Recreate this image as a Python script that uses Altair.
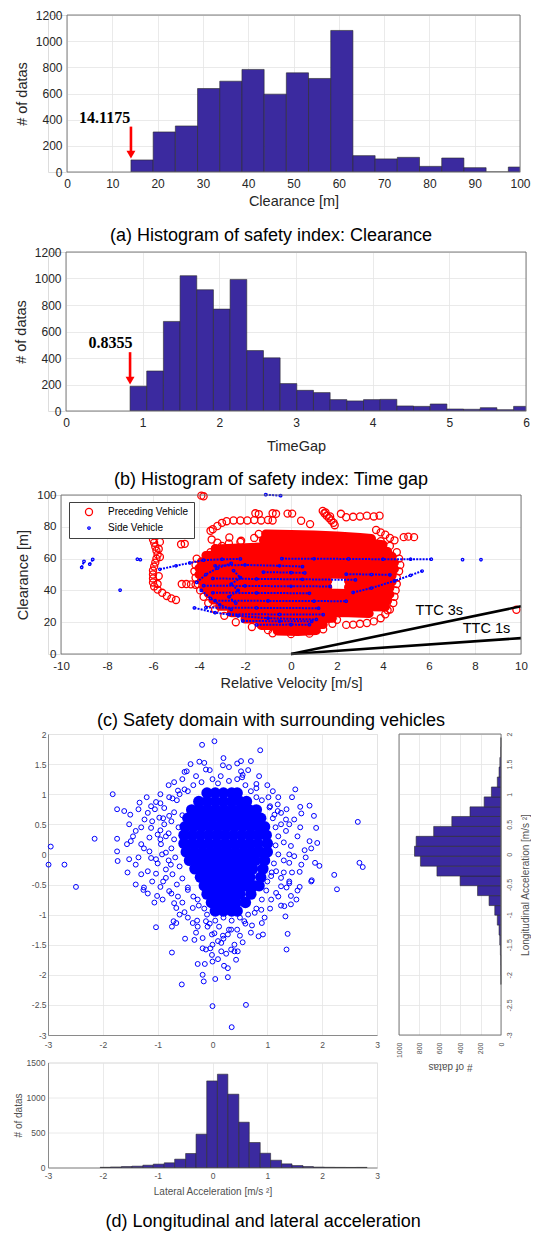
import altair as alt
import pandas as pd

FONT = "Liberation Sans"
SERIF = "Liberation Serif"
BAR_FILL = "#3b2a9f"
BAR_EDGE = "#2a2a2a"
GRID = "#e4e4e4"
FRAME = "#6f6f6f"
INK = "#262626"
INK_D = "#505050"
RED = "#ff0000"
BLUE = "#0000ff"
LBL = "datum.value + ''"

# ---------------- (a) Clearance histogram ----------------
A_LO = [14.1175, 19.02, 23.92, 28.82, 33.72, 38.62, 43.52, 48.42, 53.32, 58.22,
        63.12, 68.02, 72.92, 77.82, 82.72, 87.62, 92.52, 97.42]
A_HI = [19.02, 23.92, 28.82, 33.72, 38.62, 43.52, 48.42, 53.32, 58.22, 63.12,
        68.02, 72.92, 77.82, 82.72, 87.62, 92.52, 97.42, 102.32]
A_CNT = [92, 306, 352, 638, 694, 784, 595, 758, 715, 1082, 125, 100, 112, 43, 107, 33, 0, 38]
A_XTICKS = [0, 10, 20, 30, 40, 50, 60, 70, 80, 90, 100]
A_ARROW = [14.1175, 347, 150, 133]          # x, shaft top, shaft bottom, head centre
A_NOTE = ["14.1175", 8.3, 415]

# ---------------- (b) Time gap histogram ----------------
B_LO = [0.8355, 1.053, 1.2705, 1.488, 1.7055, 1.923, 2.1405, 2.358, 2.5755, 2.793,
        3.0105, 3.228, 3.4455, 3.663, 3.8805, 4.098, 4.3155, 4.533, 4.7505, 4.968,
        5.1855, 5.403, 5.6205, 5.838]
B_HI = [1.053, 1.2705, 1.488, 1.7055, 1.923, 2.1405, 2.358, 2.5755, 2.793, 3.0105,
        3.228, 3.4455, 3.663, 3.8805, 4.098, 4.3155, 4.533, 4.7505, 4.968, 5.1855,
        5.403, 5.6205, 5.838, 6.0555]
B_CNT = [187, 302, 676, 1021, 915, 769, 993, 456, 401, 207, 156, 139, 86, 76, 86, 88,
         38, 35, 53, 15, 13, 25, 10, 35]
B_XTICKS = [0, 1, 2, 3, 4, 5, 6]
B_ARROW = [0.8355, 444, 250, 230]
B_NOTE = ["0.8355", 0.58, 512]
AB_YTICKS = [0, 200, 400, 600, 800, 1000, 1200]

# ---------------- (c) Safety domain ----------------
C_XTICKS = [-10, -8, -6, -4, -2, 0, 2, 4, 6, 8, 10]
C_YTICKS = [0, 20, 40, 60, 80, 100]
SERIES = ["Preceding Vehicle", "Side Vehicle"]
RED_TRACKS = [
    [(-1.1, 75.5), (0.0, 75.2), (1.0, 74.8), (2.0, 74.2), (3.0, 73.2), (3.5, 72.6)],
    [(-1.2, 71.5), (0.5, 71.2), (2.0, 70.8), (3.3, 70.0), (4.0, 68.8)],
    [(-3.3, 66.0), (-2.5, 66.5), (-1.0, 67.5), (0.5, 67.2), (2.0, 66.8), (3.5, 66.0), (4.2, 64.5)],
    [(-3.7, 62.0), (-2.0, 62.5), (0.0, 62.8), (2.0, 62.5), (4.4, 61.5)],
    [(-3.9, 58.0), (-2.0, 58.3), (0.0, 58.5), (2.0, 58.2), (4.5, 57.5)],
    [(-4.0, 54.0), (-2.0, 54.2), (0.0, 54.5), (2.0, 54.2), (4.5, 53.5)],
    [(-4.0, 50.0), (-2.0, 50.2), (0.0, 50.5), (1.5, 50.3), (4.4, 49.5)],
    [(-3.9, 46.0), (-2.0, 46.2), (0.0, 46.3), (1.6, 46.0)],
    [(2.5, 46.0), (4.4, 45.5)],
    [(-3.8, 42.0), (-2.0, 42.2), (0.0, 42.3), (1.6, 42.0)],
    [(2.5, 42.0), (4.3, 41.5)],
    [(-3.6, 38.0), (-2.0, 38.2), (0.0, 38.3), (2.0, 38.2), (4.3, 37.5)],
    [(-3.4, 34.0), (-2.0, 34.0), (0.0, 34.2), (2.0, 34.0), (4.2, 33.5)],
    [(-3.1, 30.0), (-1.5, 30.0), (0.0, 30.2), (2.0, 30.0), (4.1, 29.5)],
    [(-2.6, 26.0), (-1.0, 26.0), (0.5, 26.2), (2.5, 26.0), (3.4, 25.5)],
    [(-2.0, 22.0), (-0.5, 22.0), (1.0, 22.0), (1.8, 22.5)],
    [(-1.3, 18.0), (0.0, 18.0), (1.4, 18.5)],
    [(-0.6, 14.5), (0.3, 14.2), (1.1, 14.8)],
]
RED_PTS = [
    (-3.9, 99.6), (-3.8, 99.2),
    (-3.5, 77.5), (-3.4, 78.5), (-3.2, 80.5), (-3.0, 82.5), (-2.8, 83.5), (-2.5, 84.0),
    (-2.2, 84.0), (-1.9, 84.0), (-1.6, 84.2), (-1.3, 84.0), (-1.0, 84.3), (-0.8, 84.0),
    (-1.55, 88.5), (-1.4, 88.0), (-0.8, 88.5), (-0.65, 88.2), (-0.15, 88.3), (0.05, 88.3),
    (0.44, 83.8), (0.83, 81.7),
    (-2.68, 73.3), (-2.17, 71.2), (-4.78, 69.0), (-4.62, 69.3),
    (1.38, 90.0), (1.45, 88.5), (1.55, 87.0), (1.65, 85.5), (1.75, 84.0), (1.85, 82.5),
    (1.9, 81.0), (1.5, 89.0), (1.7, 86.5), (2.17, 88.2),
    (2.4, 86.0), (2.7, 86.3), (3.0, 86.5), (3.3, 87.0), (3.6, 86.5), (3.85, 87.0),
    (3.7, 78.0), (3.9, 76.5), (4.1, 75.0), (4.3, 73.0), (4.5, 71.5),
    (4.9, 73.5), (5.1, 73.8), (5.35, 73.5),
    (-6.0, 72.0), (-5.95, 70.0), (-5.9, 67.5), (-5.85, 65.0), (-5.8, 62.5), (-5.85, 60.0),
    (-5.9, 57.5), (-5.95, 55.0), (-6.0, 52.5), (-6.0, 50.0), (-6.0, 47.5), (-6.0, 45.0),
    (-5.95, 42.5), (-5.8, 40.5), (-5.6, 38.5), (-5.4, 36.5), (-5.2, 35.0), (-5.0, 34.0),
    (-5.75, 66.0), (-5.7, 61.0), (-5.75, 49.0), (-5.8, 44.0), (-5.7, 70.5),
    (-4.75, 44.0), (-4.55, 44.0), (-4.35, 43.8), (-4.15, 43.5),
    (4.1, 30.0), (4.2, 27.5), (4.1, 25.0), (3.9, 22.5), (3.6, 20.5), (3.3, 19.5),
    (3.0, 19.0), (2.7, 18.5), (2.4, 18.3),
    (9.8, 27.8),
    (-3.5, 64.0), (-3.3, 66.5), (-3.0, 68.0), (-2.7, 69.5), (-2.2, 70.5), (-1.6, 73.0),
    (-1.4, 75.5), (-3.2, 70.0), (-3.45, 72.0),
    (-4.1, 60.0), (-4.15, 56.0), (-4.2, 52.0), (-4.15, 48.0), (-4.05, 44.0), (-3.95, 40.0),
    (-3.8, 36.0), (-3.6, 32.0), (-3.3, 28.0), (-2.9, 24.0), (-2.4, 20.0), (-1.7, 17.0),
    (-1.0, 15.0), (-0.8, 13.0), (0.0, 12.5), (0.8, 12.8), (1.4, 15.5), (1.8, 19.0), (2.0, 21.5),
    (4.7, 60.0), (4.75, 56.0), (4.7, 52.0), (4.6, 48.0), (4.6, 44.0), (4.55, 40.0),
    (4.5, 36.0), (4.45, 32.0), (4.3, 28.0), (4.6, 64.0), (4.3, 68.0), (3.9, 71.0),
]
BLUE_TRACKS = [
    [(-5.7, 53.3), (-5.0, 55.5), (-4.4, 57.3), (-3.8, 59.0), (-3.0, 59.6), (-2.2, 59.8)],
    [(-0.4, 60.0), (1.0, 59.9), (2.5, 59.8), (4.0, 59.6), (5.2, 59.6), (6.1, 59.6)],
    [(-3.3, 55.5), (-2.0, 56.0), (-0.5, 55.5), (0.5, 55.0)],
    [(-1.2, 51.5), (0.0, 51.2), (0.6, 51.0)],
    [(2.4, 50.2), (3.5, 50.0), (4.3, 49.8)],
    [(2.7, 38.7), (3.5, 41.5), (4.5, 46.0), (5.2, 49.5), (5.7, 52.2)],
    [(-3.4, 47.5), (-1.5, 47.2), (0.5, 47.0), (2.8, 46.6)],
    [(-3.8, 43.0), (-2.0, 42.8), (0.0, 42.6), (1.7, 42.5)],
    [(-3.4, 38.5), (-1.5, 38.4), (0.8, 38.2)],
    [(-3.3, 33.5), (-1.0, 33.4), (1.0, 33.3), (2.4, 33.2)],
    [(-3.7, 29.2), (-1.5, 29.0), (1.2, 28.8)],
    [(-2.7, 25.0), (-0.5, 24.9), (1.4, 24.8)],
    [(-2.1, 20.8), (-0.5, 20.6), (0.9, 20.5)],
    [(-1.5, 18.3), (0.0, 18.5), (0.8, 18.4)],
    [(-4.1, 45.0), (-3.7, 50.0), (-3.2, 54.0), (-2.6, 57.0)],
    [(-4.2, 29.0), (-3.3, 26.0), (-2.3, 24.0), (-1.0, 22.5), (1.1, 21.7)],
    [(-3.9, 40.0), (-3.5, 35.0), (-3.1, 31.0), (-2.6, 28.0)],
    [(-2.5, 52.5), (-2.2, 48.0), (-2.6, 44.0), (-2.3, 40.0), (-2.7, 36.0), (-2.4, 32.0)],
    [(-1.1, 100.2), (-0.45, 99.6)],
    [(-9.1, 54.5), (-9.0, 58.3)],
    [(-8.75, 56.5), (-8.62, 59.5)],
]
BLUE_PTS = [(-6.68, 59.6), (-6.55, 59.3), (-7.43, 40.2), (7.46, 59.4), (8.26, 59.4)]
TTC_NAME = ["TTC 3s", "TTC 1s"]
TTC_END = [30, 10]                   # clearance at relative velocity 10 m/s
TTC_LABEL_XY = [(6.45, 27.3), (8.5, 15.5)]

# ---------------- (d) accelerations ----------------
D_XTICKS = [-3, -2, -1, 0, 1, 2, 3]
D_YTICKS = [-3, -2.5, -2, -1.5, -1, -0.5, 0, 0.5, 1, 1.5, 2]
D_CORE = [
    (1.02, [-0.1, 0.05, 0.2, 0.35, 0.45]),
    (0.88, [-0.25, -0.1, 0.05, 0.2, 0.35, 0.5, 0.62]),
    (0.74, [-0.38, -0.23, -0.08, 0.07, 0.22, 0.37, 0.52, 0.67, 0.8]),
    (0.60, [-0.45, -0.3, -0.15, 0.0, 0.15, 0.3, 0.45, 0.6, 0.75, 0.88]),
    (0.46, [-0.5, -0.35, -0.2, -0.05, 0.1, 0.25, 0.4, 0.55, 0.7, 0.85, 0.95]),
    (0.32, [-0.52, -0.37, -0.22, -0.07, 0.08, 0.23, 0.38, 0.53, 0.68, 0.83, 0.98]),
    (0.18, [-0.52, -0.37, -0.22, -0.07, 0.08, 0.23, 0.38, 0.53, 0.68, 0.83, 1.0]),
    (0.04, [-0.48, -0.33, -0.18, -0.03, 0.12, 0.27, 0.42, 0.57, 0.72, 0.87, 1.0]),
    (-0.10, [-0.42, -0.27, -0.12, 0.03, 0.18, 0.33, 0.48, 0.63, 0.78, 0.95]),
    (-0.24, [-0.32, -0.17, -0.02, 0.13, 0.28, 0.43, 0.58, 0.73, 0.92]),
    (-0.38, [-0.22, -0.07, 0.08, 0.23, 0.38, 0.53, 0.68, 0.88]),
    (-0.52, [-0.15, 0.0, 0.15, 0.3, 0.45, 0.6, 0.75, 0.85]),
    (-0.66, [-0.1, 0.05, 0.2, 0.35, 0.5, 0.7]),
    (-0.80, [-0.02, 0.13, 0.28, 0.43, 0.6]),
    (-0.94, [0.05, 0.2, 0.35, 0.45]),
]
D_PTS = [
    (-0.19, 1.82), (0.035, 1.88), (0.87, 1.73), (-0.24, 1.54), (-0.15, 1.52), (0.19, 1.48),
    (0.45, 1.51), (0.52, 1.55), (-0.51, 1.37), (-0.47, 1.38), (-0.12, 1.41), (0.52, 1.38),
    (0.54, 1.28), (0.8, 1.17), (0.8, 1.10), (-1.82, 1.0), (-0.63, 1.06), (-0.51, 1.08),
    (1.45, 0.95), (1.51, 1.08), (-1.33, 0.86), (-1.74, 0.75), (-1.5, 0.66), (-1.61, 0.72),
    (-1.03, 0.87), (-1.12, 0.8), (-0.88, 0.77), (-0.79, 0.95), (-0.73, 0.93), (1.77, 0.81),
    (1.6, 0.79), (1.19, 0.72), (1.25, 0.69), (1.62, 0.68), (1.85, 0.64), (1.89, 0.44),
    (2.65, 0.54), (-2.15, 0.26), (-1.74, 0.26), (-2.95, 0.13), (-2.99, -0.17), (-2.7, -0.17),
    (-1.74, 0.05), (-1.73, -0.11), (-1.52, -0.08), (-1.4, -0.17), (-1.3, -0.33), (-1.18, -0.28),
    (-1.03, -0.32), (-1.52, 0.5), (-1.4, 0.39), (-1.49, 0.22), (-1.56, 0.17), (-1.3, 0.17),
    (-1.12, 0.44), (-1.15, 0.28), (-1.03, -0.08), (-1.12, -0.06), (1.77, 0.22), (1.91, 0.19),
    (1.68, 0.07), (1.8, 0.1), (1.43, 0.14), (1.49, -0.03), (1.4, -0.14), (1.62, -0.17),
    (1.87, -0.14), (1.95, -0.19), (2.22, -0.34), (1.81, -0.43), (1.59, -0.29), (2.68, -0.14),
    (2.74, -0.21), (1.34, 0.39), (1.4, 0.5), (1.49, 0.58), (1.34, 0.58), (1.13, 0.66),
    (1.19, 0.83), (1.04, 0.78), (-1.18, 0.69), (-1.24, 0.58), (-0.97, 0.61), (-1.0, 0.33),
    (-0.88, 0.5), (-0.79, 0.64), (-0.94, 0.17), (-0.85, 0.03), (-0.76, -0.17), (-0.73, -0.33),
    (-0.85, -0.39), (1.16, -0.28), (1.25, -0.39), (1.4, -0.45), (1.07, -0.36),
    (-2.49, -0.54), (-1.4, -0.5), (-1.26, -0.59), (-1.18, -0.65), (-1.06, -0.8), (-1.01, -0.69),
    (-0.91, -0.75), (-0.95, -0.54), (-0.79, -0.61), (-0.7, -0.81), (-0.66, -0.89), (-0.63, -0.7),
    (-0.51, -0.96), (-0.36, -0.89), (-1.03, -1.21), (-0.74, -1.2), (-0.71, -1.11), (-0.66, -1.14),
    (-0.33, -1.42), (-0.28, -1.1), (-0.18, -1.39), (-0.12, -1.11), (-0.09, -1.2), (-0.01, -1.33),
    (-0.74, -1.63), (-0.18, -1.56), (-0.12, -1.58), (-0.04, -1.56), (-0.01, -1.67), (-0.27, -1.82),
    (-0.14, -1.82), (0.0, -1.78), (0.1, -1.74), (0.16, -1.61), (0.21, -1.85), (0.28, -1.89),
    (0.34, -1.58), (0.4, -1.61), (0.46, -1.61), (0.43, -1.75), (0.25, -1.65), (0.1, -1.44),
    (0.19, -1.35), (0.16, -1.47), (0.55, -1.46), (0.58, -1.11), (0.72, -1.18), (0.84, -1.36),
    (0.92, -1.33), (0.9, -1.14), (1.37, -1.32), (1.35, -1.58), (1.33, -1.03), (1.31, -0.86),
    (1.43, -0.69), (1.43, -0.83), (1.53, -0.75), (1.4, -0.48), (1.59, -0.54), (1.8, -0.45),
    (2.27, -0.58), (-0.18, -2.0), (-0.16, -2.11), (0.05, -2.07), (0.28, -2.04), (-0.56, -2.16),
    (0.0, -2.52), (0.61, -2.5), (0.35, -2.87), (0.035, -1.31), (0.28, -1.33), (0.34, -1.25),
    (-0.36, -1.14), (-0.27, -1.2), (0.77, -0.97), (0.89, -0.92), (1.07, -0.75), (1.16, -0.64),
    (1.25, -0.53), (-0.27, -0.75), (-0.45, -0.59),
    (-0.65, 0.9), (-0.7, 0.7), (-0.75, 0.55), (-0.8, 0.35), (-0.7, 0.25), (-0.75, 0.1),
    (-0.68, -0.05), (-0.6, -0.2), (-0.55, -0.4), (-0.45, -0.55), (-0.35, -0.7), (-0.25, -0.85),
    (-0.62, 0.45), (-0.9, 0.6), (-0.95, 0.4), (-0.92, 0.0), (-0.85, -0.25), (-0.65, -0.5),
    (-0.55, 0.65), (-0.6, 1.0), (-0.45, 1.05), (-0.35, 1.15),
    (-0.2, 1.2), (0.0, 1.25), (0.15, 1.3), (0.3, 1.22), (0.45, 1.25), (0.6, 1.15), (0.7, 1.05),
    (0.8, 0.95), (0.55, 1.32), (0.1, 1.18), (0.9, 0.9),
    (1.05, 0.8), (1.1, 0.6), (1.15, 0.45), (1.2, 0.3), (1.15, 0.15), (1.2, 0.0), (1.12, -0.15),
    (1.08, -0.3), (1.0, -0.45), (0.98, -0.6), (0.9, -0.75), (0.8, -0.9), (1.3, 0.2), (1.3, -0.1),
    (1.25, 0.5), (1.02, 0.95),
    (0.65, -1.0), (0.5, -1.05), (0.35, -1.1), (0.2, -1.05), (0.05, -1.1), (-0.1, -1.0),
    (-0.15, -0.9), (0.12, -1.2), (0.45, -1.25), (0.6, -1.15), (0.3, -1.25), (-0.05, -1.15),
    (-1.2, 0.95), (-1.05, 0.75), (-0.95, 0.85), (-1.3, 0.45), (-1.1, 0.55), (-1.25, 0.1),
    (-1.0, -0.15), (-0.95, 0.25), (-1.15, 0.05), (-0.85, 0.3), (-0.8, -0.1), (-0.9, -0.45),
    (-1.1, -0.45), (-0.75, -0.65), (-0.55, -0.8), (-0.45, -1.05), (-0.6, -1.0), (-0.3, -1.3),
    (0.2, -1.4), (0.5, -1.35), (0.7, -1.3), (0.95, -1.05), (1.05, -0.9), (1.2, -0.7),
    (1.25, -0.85), (1.35, -0.55), (1.3, -0.3), (1.45, -0.3), (1.4, 0.0), (1.55, 0.3),
    (1.35, 0.75), (1.2, 0.95), (1.0, 1.15), (0.85, 1.3), (0.65, 1.4), (0.3, 1.45),
    (-0.05, 1.4), (-0.3, 1.3), (-0.55, 1.25), (-0.8, 1.15), (-0.95, 1.0), (-1.35, 0.75),
    (-1.45, 0.3), (-1.35, -0.05), (-1.55, -0.3), (-1.25, -0.55), (1.6, 0.45), (1.7, -0.05),
    (1.55, -0.6), (0.0, -1.5), (0.4, -1.5), (-0.5, -1.4), (1.1, 1.05), (-0.7, 1.2),
    (0.2, 1.6), (-0.4, 1.5), (0.7, 1.55),
]
R_LO = [-2.16, -1.995, -1.83, -1.67, -1.505, -1.34, -1.175, -1.01, -0.85, -0.685, -0.52,
        -0.36, -0.195, -0.03, 0.135, 0.30, 0.465, 0.63, 0.79, 0.955, 1.12, 1.285, 1.45,
        1.61, 1.78]
R_HI = [-1.995, -1.83, -1.67, -1.505, -1.34, -1.175, -1.01, -0.85, -0.685, -0.52, -0.36,
        -0.195, -0.03, 0.135, 0.30, 0.465, 0.63, 0.79, 0.955, 1.12, 1.285, 1.45, 1.61,
        1.78, 1.94]
R_CNT = [1, 2, 3, 6, 12, 19, 36, 61, 117, 230, 401, 628, 789, 848, 832, 660, 482, 304,
         165, 94, 36, 19, 11, 3, 1]
R_XTICKS = [0, 200, 400, 600, 800, 1000]
L_LO = [-2.05, -1.86, -1.66, -1.47, -1.27, -1.08, -0.88, -0.69, -0.49, -0.30, -0.105,
        0.09, 0.28, 0.48, 0.67, 0.87, 1.06, 1.26, 1.45, 1.65, 1.84, 2.04, 2.23, 2.43, 2.62]
L_HI = [-1.86, -1.66, -1.47, -1.27, -1.08, -0.88, -0.69, -0.49, -0.30, -0.105, 0.09,
        0.28, 0.48, 0.67, 0.87, 1.06, 1.26, 1.45, 1.65, 1.84, 2.04, 2.23, 2.43, 2.62, 2.82]
L_CNT = [3, 8, 14, 19, 33, 48, 67, 119, 200, 476, 1237, 1333, 1047, 647, 357, 204, 104,
         52, 28, 14, 6, 3, 2, 1, 2]
L_YTICKS = [0, 500, 1000, 1500]


def axis(values, **kw):
    base = dict(values=values, grid=True, gridColor=GRID, gridWidth=0.8, domain=False,
                ticks=False, labelExpr=LBL, labelFont=FONT, titleFont=FONT,
                titleFontWeight="normal", labelFlush=False, labelOverlap=False,
                labelBound=False)
    base.update(kw)
    return alt.Axis(**base)


def caption(text, offset, dx):
    return alt.TitleParams(text=text, orient="bottom", anchor="middle", frame="group",
                           offset=offset, dx=dx, fontSize=18, font=FONT,
                           fontWeight="normal", color="black")


def top_hist(lo, hi, cnt, xdom, xticks, xrng, width, height, xtitle, arrow, note,
             cap_text, cap_off, cap_dx, xtitle_pad, anchor):
    xs = alt.Scale(domain=xdom, range=xrng, nice=False, zero=False)
    ys = alt.Scale(domain=[0, 1200], nice=False)
    xax = axis(xticks, labelFontSize=12, labelColor=INK, labelPadding=6,
               titleFontSize=14.5, titleColor=INK, titlePadding=xtitle_pad)
    yax = axis(AB_YTICKS, offset=-xrng[0], labelFontSize=12, labelColor=INK,
               labelPadding=5, titleFontSize=14.5, titleColor=INK, titlePadding=6)

    def X(f):
        return alt.X(f, scale=xs, axis=xax, title=xtitle)

    def Y(f):
        return alt.Y(f, scale=ys, axis=yax, title="# of datas")

    df = pd.DataFrame({"lo": lo, "hi": hi, "n": cnt})
    bars = alt.Chart(df).mark_rect(fill=BAR_FILL, stroke=BAR_EDGE, strokeWidth=0.6,
                                   clip=True).encode(
        x=X("lo:Q"), x2=alt.X2("hi"), y=Y("n:Q"), y2=alt.datum(0))
    adf = pd.DataFrame({"x": [arrow[0]], "y0": [arrow[1]], "y1": [arrow[2]],
                        "yh": [arrow[3]], "t": [note[0]], "tx": [note[1]], "ty": [note[2]]})
    shaft = alt.Chart(adf).mark_rule(color=RED, strokeWidth=2.6).encode(
        x=X("x:Q"), y=Y("y0:Q"), y2=alt.Y2("y1"))
    head = alt.Chart(adf).mark_point(shape="triangle-down", filled=True, color=RED,
                                     size=80, opacity=1).encode(x=X("x:Q"), y=Y("yh:Q"))
    txt = alt.Chart(adf).mark_text(font=SERIF, fontWeight="bold", fontSize=16,
                                   color="black").encode(x=X("tx:Q"), y=Y("ty:Q"), text="t:N")
    fdf = pd.DataFrame({"x0": [xdom[0]], "x1": [xdom[1]], "y0": [0], "y1": [1200]})
    frame = alt.Chart(fdf).mark_rect(fillOpacity=0, stroke=FRAME, strokeWidth=0.9).encode(
        x=X("x0:Q"), x2=alt.X2("x1"), y=Y("y0:Q"), y2=alt.Y2("y1"))
    layers = [bars, shaft, head, txt, frame]
    if anchor:
        layers.append(alt.Chart(pd.DataFrame({"k": [0]})).mark_rule(
            strokeWidth=0, strokeOpacity=0).encode(
            x=alt.value(-47), x2=alt.value(-47), y=alt.value(-14), y2=alt.value(-13)))
    return alt.layer(*layers).properties(width=width, height=height,
                                         title=caption(cap_text, cap_off, cap_dx))


pa = top_hist(A_LO, A_HI, A_CNT, [0, 100], A_XTICKS, [19, 472], 472, 157,
              "Clearance [m]", A_ARROW, A_NOTE,
              "(a) Histogram of safety index: Clearance", 19.5, -13, 5, True)
pb = top_hist(B_LO, B_HI, B_CNT, [0, 6], B_XTICKS, [18, 478], 478, 159,
              "TimeGap", B_ARROW, B_NOTE,
              "(b) Histogram of safety index: Time gap", 18, -16, 11, False)

# ---------------- panel (c) ----------------
xs_c = alt.Scale(domain=[-10, 10], range=[13, 473], nice=False)
ys_c = alt.Scale(domain=[0, 100], nice=False)
xax_c = axis(C_XTICKS, labelFontSize=11.5, labelColor=INK, labelPadding=6,
             titleFontSize=14.5, titleColor=INK, titlePadding=5)
yax_c = axis(C_YTICKS, offset=-13, labelFontSize=11.5, labelColor=INK, labelPadding=5,
             titleFontSize=14.5, titleColor=INK, titlePadding=6)


def XC(f):
    return alt.X(f, scale=xs_c, axis=xax_c, title="Relative Velocity [m/s]")


def YC(f):
    return alt.Y(f, scale=ys_c, axis=yax_c, title="Clearance [m]")


rt = pd.DataFrame([{"tid": i, "o": j, "x": p[0], "y": p[1]}
                   for i, tr in enumerate(RED_TRACKS) for j, p in enumerate(tr)])
bt = pd.DataFrame([{"tid": i, "o": j, "x": p[0], "y": p[1]}
                   for i, tr in enumerate(BLUE_TRACKS) for j, p in enumerate(tr)])
pts = pd.DataFrame(
    [{"x": p[0], "y": p[1], "series": SERIES[0]} for p in RED_PTS]
    + [{"x": p[0], "y": p[1], "series": SERIES[1]} for p in BLUE_PTS]
    + [{"x": p[0], "y": p[1], "series": SERIES[1]} for tr in BLUE_TRACKS for p in tr])

leg = dict(title=None, orient="none", legendX=21, legendY=7, direction="vertical",
           fillColor="white", strokeColor="#404040", padding=5, labelFont=FONT,
           labelFontSize=10, labelColor="black", symbolStrokeWidth=1.3,
           symbolOffset=10, labelOffset=14, rowPadding=4, symbolType="circle")

red_lines = alt.Chart(rt).mark_line(color=RED, strokeWidth=9, strokeCap="round",
                                    strokeJoin="round").encode(
    x=XC("x:Q"), y=YC("y:Q"), detail="tid:N", order="o:Q")
points = alt.Chart(pts).mark_point(filled=False, strokeWidth=1.3, opacity=1).encode(
    x=XC("x:Q"), y=YC("y:Q"),
    color=alt.Color("series:N", scale=alt.Scale(domain=SERIES, range=[RED, BLUE]),
                    legend=alt.Legend(**leg)),
    size=alt.Size("series:N", scale=alt.Scale(domain=SERIES, range=[50, 6]),
                  legend=alt.Legend(**leg)))
blue_lines = alt.Chart(bt).mark_line(color=BLUE, strokeWidth=2, strokeDash=[2, 1.2]).encode(
    x=XC("x:Q"), y=YC("y:Q"), detail="tid:N", order="o:Q")
ttc = pd.DataFrame({"name": TTC_NAME, "x0": [0, 0], "y0": [0, 0], "x1": [10, 10],
                    "y1": TTC_END, "lx": [p[0] for p in TTC_LABEL_XY],
                    "ly": [p[1] for p in TTC_LABEL_XY]})
ttc_lines = alt.Chart(ttc).mark_rule(color="black", strokeWidth=2.6).encode(
    x=XC("x0:Q"), y=YC("y0:Q"), x2=alt.X2("x1"), y2=alt.Y2("y1"))
ttc_text = alt.Chart(ttc).mark_text(font=FONT, fontSize=14.5, color="black").encode(
    x=XC("lx:Q"), y=YC("ly:Q"), text="name:N")
fc = pd.DataFrame({"x0": [-10], "x1": [10], "y0": [0], "y1": [100]})
frame_c = alt.Chart(fc).mark_rect(fillOpacity=0, stroke=FRAME, strokeWidth=0.9).encode(
    x=XC("x0:Q"), x2=alt.X2("x1"), y=YC("y0:Q"), y2=alt.Y2("y1"))
pc = alt.layer(red_lines, points, blue_lines, ttc_lines, ttc_text, frame_c).properties(
    width=473, height=159,
    title=caption("(c) Safety domain with surrounding vehicles", 21.5, -13.5))

# ---------------- panel (d) ----------------
xs_d = alt.Scale(domain=[-3, 3], nice=False)
ys_d = alt.Scale(domain=[-3, 2], nice=False)
dax = dict(domain=True, domainColor="#8a8a8a", domainWidth=1, labelFontSize=8.5,
           labelColor=INK_D)
xax_d = axis(D_XTICKS, labelPadding=5, **dax)
yax_d = axis(D_YTICKS, labelPadding=2, **dax)
core = pd.DataFrame([{"x": x, "y": row[0]} for row in D_CORE for x in row[1]])
scat = pd.DataFrame({"x": [p[0] for p in D_PTS], "y": [p[1] for p in D_PTS]})
core_l = alt.Chart(core).mark_circle(color=BLUE, size=130, opacity=1).encode(
    x=alt.X("x:Q", scale=xs_d, axis=xax_d, title=None),
    y=alt.Y("y:Q", scale=ys_d, axis=yax_d, title=None))
scat_l = alt.Chart(scat).mark_point(color=BLUE, size=24, strokeWidth=1, opacity=1).encode(
    x=alt.X("x:Q", scale=xs_d, axis=xax_d, title=None),
    y=alt.Y("y:Q", scale=ys_d, axis=yax_d, title=None))
scatter = alt.layer(core_l, scat_l).properties(width=329, height=301)

ldf = pd.DataFrame({"lo": L_LO, "hi": L_HI, "n": L_CNT})
bottom = alt.Chart(ldf).mark_rect(fill=BAR_FILL, stroke=BAR_EDGE, strokeWidth=0.6).encode(
    x=alt.X("lo:Q", scale=xs_d,
            axis=axis(D_XTICKS, labelPadding=4, titlePadding=6, titleFontSize=10,
                      titleColor=INK_D, **dax),
            title="Lateral Acceleration [m/s ²]"),
    x2=alt.X2("hi"),
    y=alt.Y("n:Q", scale=alt.Scale(domain=[0, 1500], nice=False),
            axis=axis(L_YTICKS, labelPadding=3, titlePadding=3, titleFontSize=10,
                      titleColor=INK_D, **dax),
            title="# of datas"),
    y2=alt.datum(0)).properties(width=329, height=105)

rdf = pd.DataFrame({"lo": R_LO, "hi": R_HI, "n": R_CNT})
rxs = alt.Scale(domain=[0, 1000], reverse=True, nice=False)
rax_x = axis(R_XTICKS, labelFontSize=7, labelColor=INK_D, labelAngle=270,
             labelAlign="right", labelBaseline="middle", labelPadding=7,
             titleFontSize=10, titleColor=INK_D, titleAngle=180,
             titleBaseline="bottom", titlePadding=4)
rax_y = axis(D_YTICKS, orient="right", labelFontSize=7, labelColor=INK_D, labelAngle=270,
             labelAlign="center", labelBaseline="top", labelPadding=4,
             titleFontSize=10, titleColor=INK_D, titleAngle=270, titleBaseline="top",
             titlePadding=8)
rbars = alt.Chart(rdf).mark_rect(fill=BAR_FILL, stroke=BAR_EDGE, strokeWidth=0.6).encode(
    x=alt.X("n:Q", scale=rxs, axis=rax_x, title="# of datas"),
    x2=alt.datum(0),
    y=alt.Y("lo:Q", scale=ys_d, axis=rax_y, title="Longitudinal Acceleration [m/s ²]"),
    y2=alt.Y2("hi"))
frdf = pd.DataFrame({"x0": [0], "x1": [1000], "y0": [-3], "y1": [2]})
rframe = alt.Chart(frdf).mark_rect(fillOpacity=0, stroke=FRAME, strokeWidth=0.9).encode(
    x=alt.X("x0:Q", scale=rxs, axis=rax_x, title="# of datas"), x2=alt.X2("x1"),
    y=alt.Y("y0:Q", scale=ys_d, axis=rax_y, title="Longitudinal Acceleration [m/s ²]"),
    y2=alt.Y2("y1"))
right = alt.layer(rbars, rframe).properties(width=102, height=301)

d_left = alt.vconcat(scatter, bottom, spacing=8.5)
d_block = alt.hconcat(d_left, right, spacing=14).properties(
    title=alt.TitleParams(text="(d) Longitudinal and lateral acceleration", orient="bottom",
                          anchor="start", offset=16, dx=93, fontSize=18, font=FONT,
                          fontWeight="normal", color="black"))

chart = alt.vconcat(pa, pb, pc, d_block, spacing=-1).resolve_scale(
    color="independent", size="independent").properties(
    padding={"left": 0, "top": 0, "right": 0, "bottom": 0},
    background="white",
).configure_view(stroke="transparent").configure(font=FONT)

chart.save("out.html", embed_options={"renderer": "svg", "actions": False})
